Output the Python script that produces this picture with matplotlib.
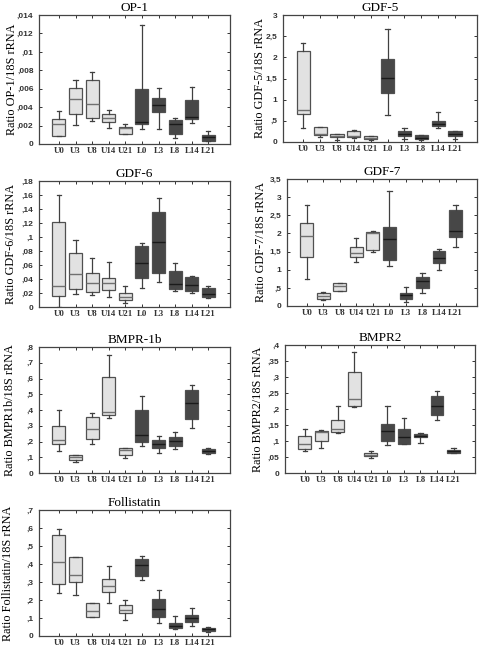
import numpy as np
import matplotlib
matplotlib.use("Agg")
import matplotlib.pyplot as plt
from matplotlib.ticker import MultipleLocator, FuncFormatter

groups = ["U0", "U3", "U8", "U14", "U21", "L0", "L3", "L8", "L14", "L21"]

# each row: whislo, q1, med, q3, whishi
op1 = [[0.0009, 0.0009, 0.00214, 0.0027, 0.00354],
       [0.00206, 0.00324, 0.0049, 0.00611, 0.00692],
       [0.0025, 0.00287, 0.00435, 0.00692, 0.00785],
       [0.00177, 0.00243, 0.00287, 0.00331, 0.00368],
       [0.0011, 0.0011, 0.00177, 0.00184, 0.00214],
       [0.00158, 0.00214, 0.00243, 0.006, 0.0129],
       [0.00158, 0.0035, 0.00424, 0.00497, 0.00611],
       [0.00066, 0.0011, 0.00214, 0.00265, 0.00287],
       [0.00225, 0.00269, 0.00298, 0.00479, 0.00619],
       [0.00037, 0.00037, 0.00074, 0.00103, 0.0014]]
gdf5 = [[0.34, 0.65, 0.76, 2.15, 2.35],
        [0.11, 0.17, 0.19, 0.35, 0.35],
        [0.05, 0.11, 0.15, 0.19, 0.19],
        [0.10, 0.11, 0.13, 0.27, 0.28],
        [0.05, 0.08, 0.10, 0.14, 0.14],
        [0.64, 1.16, 1.52, 1.96, 2.66],
        [0.07, 0.13, 0.19, 0.27, 0.33],
        [0.05, 0.07, 0.10, 0.17, 0.17],
        [0.33, 0.37, 0.42, 0.49, 0.70],
        [0.07, 0.14, 0.19, 0.25, 0.25]]
gdf6 = [[0.0, 0.0161, 0.0299, 0.1216, 0.1605],
        [0.018, 0.0252, 0.047, 0.0774, 0.0954],
        [0.0171, 0.0218, 0.0347, 0.0489, 0.0693],
        [0.0147, 0.0242, 0.0347, 0.0418, 0.0636],
        [0.0052, 0.010, 0.0147, 0.0195, 0.030],
        [0.0266, 0.0408, 0.0622, 0.0869, 0.0916],
        [0.0361, 0.0489, 0.0931, 0.1358, 0.1557],
        [0.0233, 0.0252, 0.0323, 0.0513, 0.0632],
        [0.0204, 0.0228, 0.0313, 0.0432, 0.0446],
        [0.0123, 0.0147, 0.0185, 0.0266, 0.030]]
gdf7 = [[0.74, 1.35, 1.93, 2.30, 2.78],
        [0.17, 0.19, 0.28, 0.37, 0.38],
        [0.40, 0.42, 0.54, 0.63, 0.63],
        [1.20, 1.35, 1.46, 1.63, 1.88],
        [1.49, 1.53, 2.00, 2.04, 2.08],
        [1.09, 1.28, 1.85, 2.19, 3.18],
        [0.12, 0.19, 0.30, 0.37, 0.51],
        [0.35, 0.49, 0.68, 0.80, 0.91],
        [1.00, 1.19, 1.32, 1.51, 1.56],
        [1.63, 1.91, 2.06, 2.65, 2.79]]
bmpr1b = [[0.142, 0.186, 0.207, 0.296, 0.398],
          [0.068, 0.080, 0.100, 0.116, 0.116],
          [0.186, 0.218, 0.281, 0.356, 0.381],
          [0.349, 0.370, 0.387, 0.610, 0.747],
          [0.095, 0.116, 0.144, 0.159, 0.159],
          [0.169, 0.197, 0.243, 0.402, 0.491],
          [0.127, 0.159, 0.186, 0.207, 0.233],
          [0.152, 0.174, 0.201, 0.229, 0.260],
          [0.286, 0.343, 0.444, 0.525, 0.561],
          [0.123, 0.127, 0.138, 0.152, 0.157]]
bmpr2 = [[0.068, 0.076, 0.090, 0.117, 0.137],
         [0.078, 0.101, 0.127, 0.130, 0.135],
         [0.125, 0.128, 0.137, 0.166, 0.208],
         [0.206, 0.208, 0.231, 0.317, 0.377],
         [0.047, 0.052, 0.057, 0.062, 0.070],
         [0.088, 0.099, 0.132, 0.154, 0.210],
         [0.091, 0.091, 0.112, 0.137, 0.171],
         [0.094, 0.112, 0.116, 0.122, 0.125],
         [0.166, 0.182, 0.210, 0.241, 0.255],
         [0.064, 0.064, 0.068, 0.073, 0.078]]
follistatin = [[0.237, 0.287, 0.411, 0.561, 0.593],
               [0.228, 0.302, 0.339, 0.441, 0.441],
               [0.104, 0.107, 0.139, 0.181, 0.185],
               [0.185, 0.246, 0.278, 0.317, 0.391],
               [0.089, 0.126, 0.144, 0.172, 0.200],
               [0.311, 0.333, 0.394, 0.426, 0.446],
               [0.074, 0.104, 0.148, 0.204, 0.256],
               [0.037, 0.043, 0.057, 0.070, 0.111],
               [0.056, 0.080, 0.102, 0.117, 0.157],
               [0.024, 0.030, 0.037, 0.043, 0.052]]

# title, ylabel, data, ymax, step, rect in pixels (left, top, right, bottom), ylabel x
panels = [
    ("OP-1", "Ratio OP-1/18S rRNA", op1, 0.014, 0.002, (39, 15, 230, 144), 12),
    ("GDF-5", "Ratio GDF-5/18S rRNA", gdf5, 3.0, 0.5, (283, 15, 477, 142), 260),
    ("GDF-6", "Ratio GDF-6/18S rRNA", gdf6, 0.18, 0.02, (39, 181, 230, 307), 11),
    ("GDF-7", "Ratio GDF-7/18S rRNA", gdf7, 3.5, 0.5, (287, 179, 477, 306), 261),
    ("BMPR-1b", "Ratio BMPR1b/18S rRNA", bmpr1b, 0.8, 0.1, (39, 347, 230, 473), 10),
    ("BMPR2", "Ratio BMPR2/18S rRNA", bmpr2, 0.4, 0.05, (285, 345, 475, 473), 258),
    ("Follistatin", "Ratio Follistatin/18S rRNA", follistatin, 0.7, 0.1, (39, 510, 230, 636), 8),
]

W, H = 480, 647
fig = plt.figure(figsize=(W / 100, H / 100), dpi=100)


def fmt(v, pos):
    if abs(v) < 1e-12:
        return "0"
    s = f"{v:.4f}".rstrip("0").rstrip(".")
    if s.startswith("0."):
        s = s[1:]
    return s.replace(".", ",")


serif = "Liberation Serif"
sans = "Liberation Sans"

for title, ylab, data, ymax, step, (l, t, r, b), ylx in panels:
    ax = fig.add_axes([l / W, 1 - b / H, (r - l) / W, (b - t) / H])
    pos = np.arange(len(groups))
    for i, row in enumerate(data):
        lo, q1, med, q3, hi = row
        st = dict(whislo=lo, q1=q1, med=med, q3=q3, whishi=hi, fliers=[])
        light = groups[i].startswith("U")
        face = "#e2e2e2" if light else "#474747"
        medc = "#707070" if light else "#1a1a1a"
        ax.bxp([st], positions=[pos[i]], widths=0.78, patch_artist=True,
               showfliers=False,
               boxprops=dict(facecolor=face, edgecolor="#505050", linewidth=0.9),
               medianprops=dict(color=medc, linewidth=1.0),
               whiskerprops=dict(color="#404040", linewidth=0.9),
               capprops=dict(color="#404040", linewidth=0.9),
               capwidths=0.25)
    ax.set_xlim(-1.2, 10.3)
    ax.set_ylim(0, ymax)
    ax.set_xticks(pos)
    ax.set_xticklabels(groups, fontfamily=serif, fontweight="bold", fontsize=6.3)
    ax.yaxis.set_major_locator(MultipleLocator(step))
    ax.yaxis.set_major_formatter(FuncFormatter(fmt))
    for lab in ax.get_yticklabels():
        lab.set_fontfamily(sans)
        lab.set_fontweight("bold")
        lab.set_fontsize(6)
    ax.tick_params(direction="in", length=2.5, width=0.7, top=True, right=True,
                   colors="#333333", pad=2)
    ax.tick_params(axis="y", pad=4)
    for sp in ax.spines.values():
        sp.set_color("#444444")
        sp.set_linewidth(0.9)
    ax.set_title(title, fontfamily=serif, fontsize=9.5, pad=3)
    ax.set_ylabel(ylab, fontfamily=serif, fontsize=8.8, va="center")
    ax.yaxis.set_label_coords((ylx - l) / (r - l), 0.5)

fig.savefig("out.png", dpi=100)
